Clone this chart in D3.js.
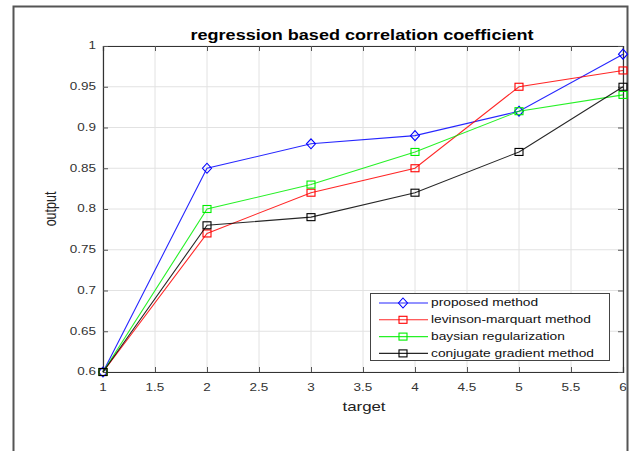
<!DOCTYPE html>
<html><head><meta charset="utf-8">
<script src="https://cdn.jsdelivr.net/npm/d3@7/dist/d3.min.js"></script>
<style>
html,body{margin:0;padding:0;background:#fff;}
svg{display:block;font-family:"Liberation Sans",Arial,sans-serif;}
</style></head>
<body><svg id="chart" width="631" height="451"></svg>
<script>
const xValues = [1, 2, 3, 4, 5, 6];
const proposed = [0.60, 0.85, 0.88, 0.89, 0.92, 0.99];
const levinson = [0.60, 0.77, 0.82, 0.85, 0.95, 0.97];
const baysian = [0.60, 0.80, 0.83, 0.87, 0.92, 0.94];
const conjugate = [0.60, 0.78, 0.79, 0.82, 0.87, 0.95];
const seriesNames = ["proposed method", "levinson-marquart method", "baysian regularization", "conjugate gradient method"];
const seriesColors = ["#0000ff", "#ff0000", "#00ee00", "#000000"];
const seriesMarkers = ["diamond", "square", "square", "square"];
const xTicks = [1, 1.5, 2, 2.5, 3, 3.5, 4, 4.5, 5, 5.5, 6];
const yTicks = [0.6, 0.65, 0.7, 0.75, 0.8, 0.85, 0.9, 0.95, 1];
const titleText = "regression based correlation coefficient";
const xLabel = "target", yLabel = "output";

const allSeries = [proposed, levinson, baysian, conjugate];
const svg = d3.select("#chart");
const L = 103, R = 623, T = 46, B = 372;
const x = d3.scaleLinear().domain([1, 6]).range([L, R]);
const y = d3.scaleLinear().domain([0.6, 1]).range([B, T]);
const SX = 1.35;

// outer frame
svg.append("path").attr("d", `M13.5,451 V6.5 H627.5 V451`).attr("fill", "none")
  .attr("stroke", "#555").attr("stroke-width", 2);

// grid
const g = svg.append("g");
g.selectAll(".gx").data(xTicks).join("line")
  .attr("x1", d => x(d)).attr("x2", d => x(d)).attr("y1", T).attr("y2", B)
  .attr("stroke", "#e2e2e2").attr("stroke-width", 1);
g.selectAll(".gy").data(yTicks).join("line")
  .attr("y1", d => y(d)).attr("y2", d => y(d)).attr("x1", L).attr("x2", R)
  .attr("stroke", "#e2e2e2").attr("stroke-width", 1);

// axes using d3 axis (inner ticks)
const fmt = d => String(+d.toFixed(2));
const axB = svg.append("g").attr("transform", `translate(0,${B})`)
  .call(d3.axisBottom(x).tickValues(xTicks).tickSize(-5).tickFormat(""));
const axT = svg.append("g").attr("transform", `translate(0,${T})`)
  .call(d3.axisTop(x).tickValues(xTicks).tickSize(-5).tickFormat(""));
const axL = svg.append("g").attr("transform", `translate(${L},0)`)
  .call(d3.axisLeft(y).tickValues(yTicks).tickSize(-5).tickFormat(""));
const axR = svg.append("g").attr("transform", `translate(${R},0)`)
  .call(d3.axisRight(y).tickValues(yTicks).tickSize(-5).tickFormat(""));
[axB, axT, axL, axR].forEach(a => {
  a.select(".domain").attr("stroke", "#333").attr("stroke-width", 1.2);
  a.selectAll(".tick line").attr("stroke", "#555");
});

function stretchedText(parent, tx, ty, txt, opts) {
  const o = Object.assign({size: 10, anchor: "middle", weight: "normal", sx: SX, rot: 0, fill: "#333"}, opts || {});
  return parent.append("text")
    .attr("transform", `translate(${tx},${ty}) rotate(${o.rot}) scale(${o.sx},1)`)
    .attr("text-anchor", o.anchor).attr("font-size", o.size).attr("font-weight", o.weight)
    .attr("fill", o.fill).attr("dominant-baseline", "central").text(txt);
}

// tick labels
xTicks.forEach(v => stretchedText(svg, x(v), 388, fmt(v), {size: 10}));
yTicks.forEach(v => stretchedText(svg, 96, y(v), fmt(v), {size: 10, anchor: "end"}));

// axis labels & title
stretchedText(svg, 364, 407, xLabel, {size: 12.5, fill: "#222"});
svg.append("text").attr("transform", `translate(50,${(T + B) / 2}) rotate(-90) scale(1,${SX})`)
  .attr("text-anchor", "middle").attr("dominant-baseline", "central")
  .attr("font-size", 12.5).attr("fill", "#222").text(yLabel);
stretchedText(svg, 362, 35, titleText, {size: 14.8, weight: "bold", sx: 1.22, fill: "#000"});

// lines and markers
const line = d3.line().x((d, i) => x(xValues[i])).y(d => y(d));
const drawMarker = (sel, type, color) => {
  if (type === "diamond") {
    sel.append("path").attr("d", "M0,-5 L4.5,0 L0,5 L-4.5,0 Z")
      .attr("fill", "none").attr("stroke", color).attr("stroke-width", 1.1);
  } else {
    sel.append("rect").attr("x", -4).attr("y", -3.5).attr("width", 8).attr("height", 7)
      .attr("fill", "none").attr("stroke", color).attr("stroke-width", 1.1);
  }
};
allSeries.forEach((s, k) => {
  const c = seriesColors[k];
  svg.append("path").datum(s).attr("d", line).attr("fill", "none")
    .attr("stroke", c).attr("stroke-width", 1.1).attr("stroke-opacity", 0.85);
  s.forEach((v, i) => {
    const m = svg.append("g").attr("transform", `translate(${x(xValues[i])},${y(v)})`);
    drawMarker(m, seriesMarkers[k], c);
  });
});

// legend
const lg = svg.append("g");
lg.append("rect").attr("x", 370.5).attr("y", 293.5).attr("width", 239).attr("height", 67)
  .attr("fill", "#fff").attr("stroke", "#444").attr("stroke-width", 1);
seriesNames.forEach((n, k) => {
  const yy = 303 + k * 16.8;
  lg.append("line").attr("x1", 379).attr("x2", 428).attr("y1", yy).attr("y2", yy)
    .attr("stroke", seriesColors[k]).attr("stroke-width", 1.1).attr("stroke-opacity", 0.85);
  const m = lg.append("g").attr("transform", `translate(403,${yy})`);
  drawMarker(m, seriesMarkers[k], seriesColors[k]);
  stretchedText(lg, 431, yy, n, {size: 10.2, anchor: "start", fill: "#111"});
});
</script></body></html>
